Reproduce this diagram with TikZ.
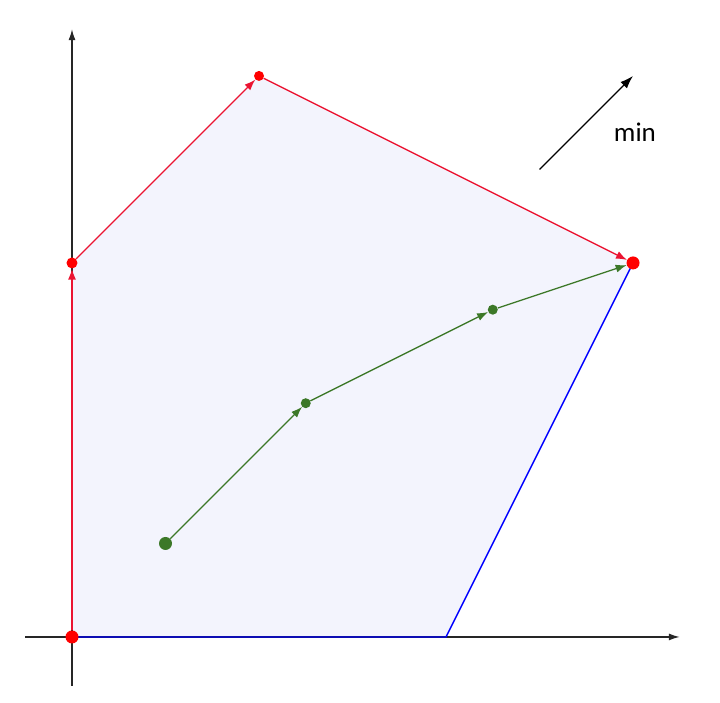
\documentclass[tikz,border=0pt]{standalone}
\usepackage{fontspec}
\setmainfont{Carlito}
\usepackage{xcolor}
\usetikzlibrary{arrows.meta, positioning}

\definecolor{edgered}{RGB}{235,20,50}
\definecolor{pathgreen}{RGB}{60,120,40}
\definecolor{regionfill}{RGB}{243,244,253}

\begin{document}
\begin{tikzpicture}[
  x=187pt, y=187pt,
  axis/.style={line width=1.3pt, black!85, -{Latex[length=11pt,width=7pt]}},
  bigdot/.style={circle, fill=#1, inner sep=0pt, minimum size=13pt},
  smalldot/.style={circle, fill=#1, inner sep=0pt, minimum size=10pt},
  redstep/.style={line width=1.3pt, edgered, -{Latex[length=11pt,width=8pt]}},
  greenstep/.style={line width=1.3pt, pathgreen, -{Latex[length=11pt,width=8pt]}},
  bound/.style={line width=1.4pt, blue},
]
  \useasboundingbox (-0.385,-0.348) rectangle (3.465,3.406);

  % Vertices of the region
  \coordinate (v0) at (0,0);
  \coordinate (v1) at (0,2);
  \coordinate (v2) at (1,3);
  \coordinate (v3) at (3,2);
  \coordinate (v4) at (2,0);

  % Feasible region
  \fill[regionfill] (v0) -- (v1) -- (v2) -- (v3) -- (v4) -- cycle;

  % Axes
  \coordinate (xs) at (-0.25,0);
  \coordinate (xe) at (3.25,0);
  \coordinate (ys) at (0,-0.26);
  \coordinate (ye) at (0,3.25);
  \draw[axis] (xs) -- (xe);
  \draw[axis] (ys) -- (ye);

  % Boundary without steps
  \draw[bound] (v0) -- (v4) -- (v3);

  % Points
  \node[bigdot=red] (p0) at (v0) {};
  \node[smalldot=red, minimum size=11pt] (p1) at (v1) {};
  \node[smalldot=red] (p2) at (v2) {};
  \node[bigdot=red] (p3) at (v3) {};

  \node[bigdot=pathgreen] (g0) at (0.5,0.5) {};
  \node[smalldot=pathgreen] (g1) at (1.25,1.25) {};
  \node[smalldot=pathgreen] (g2) at (2.25,1.75) {};

  % Simplex path along the edges
  \draw[redstep] (p0) -- (p1);
  \draw[redstep] (p1) -- (p2);
  \draw[redstep] (p2) -- (p3);

  % Interior path
  \draw[greenstep] (g0) -- (g1);
  \draw[greenstep] (g1) -- (g2);
  \draw[greenstep] (g2) -- (p3);

  % Direction of the objective
  \coordinate (d0) at (2.5,2.5);
  \coordinate (d1) at (3.0,3.0);
  \draw[line width=1.3pt, black, -{Latex[length=13pt,width=9pt]}] (d0) -- (d1);
  \node[font=\fontsize{27}{30}\selectfont] (lbl) at (3.01,2.70) {min};
\end{tikzpicture}
\end{document}
